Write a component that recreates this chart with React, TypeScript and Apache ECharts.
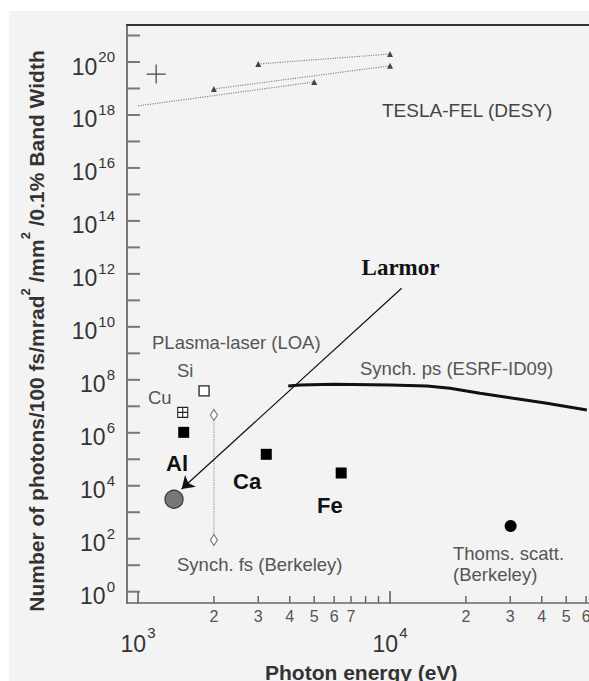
import React, { useEffect, useRef } from 'react';
import * as echarts from 'echarts';

// ---------- axis extents ----------
const X_MIN = 904;
const X_MAX = 61600;
const Y_MIN = 0.3744;
const Y_MAX = 2.495e21;

// ---------- data (photon energy in eV, photons/100fs/mrad2/mm2/0.1%BW) ----------
const teslaLineA = [[3000, 8.4e19], [10000, 2.0e20]];
const teslaLineB = [[2000, 9.6e18], [10000, 7.2e19]];
const teslaLineC = [[1000, 2.2e18], [5000, 1.76e19]];
const teslaCross = [[1180, 3.5e19]];

const esrfEnergy = [3945, 4395, 5957, 10000, 14000, 17300, 22750, 30850, 41900, 60400];
const esrfFlux = [5.85e7, 6.4e7, 6.8e7, 6.4e7, 5.85e7, 4.8e7, 3.1e7, 2.0e7, 1.3e7, 7.3e6];

const plasmaSi = [[1828, 3.8e7]];
const plasmaCu = [[1504, 5.9e6]];
const plasmaFilled = [[1518, 1.04e6], [3228, 1.54e5], [6400, 3.03e4]]; // Al, Ca, Fe
const larmorPoint = [[1389, 3.08e3]];
const thomsonPoint = [[30100, 303]];
const synchFs = [[2000, 4.7e6], [2000, 89.5]];
const larmorArrow = [[11120, 2.86e11], [1489, 7550]];

// ---------- ticks ----------
const xMinorTicks = [2000, 3000, 4000, 5000, 6000, 7000, 8000, 9000, 20000, 30000, 40000, 50000, 60000];
const xMinorLabels = ['2', '3', '4', '5', '6', '7', '', '', '2', '3', '4', '5', '6'];
const xMajorTicks = [1000, 10000];
const xMajorExponents = ['3', '4'];
const yTickValues = [1, 1e1, 1e2, 1e3, 1e4, 1e5, 1e6, 1e7, 1e8, 1e9, 1e10, 1e11, 1e12, 1e13, 1e14, 1e15, 1e16, 1e17, 1e18, 1e19, 1e20, 1e21];
const yTickExponents = ['0', '', '2', '', '4', '', '6', '', '8', '', '10', '', '12', '', '14', '', '16', '', '18', '', '20', ''];

const SANS = '"Liberation Sans", Arial, sans-serif';
const SERIF = '"Liberation Serif", "Times New Roman", serif';

const annotation = (text: string, x: number, y: number, font: string, fill: string) => ({
  type: 'text',
  x,
  y,
  silent: true,
  style: { text, font, fill, align: 'left', verticalAlign: 'middle' },
});

const buildOption = () => ({
  animation: false,
  backgroundColor: 'transparent',
  grid: { left: 127, top: 25, right: 0, bottom: 78, containLabel: false },
  xAxis: [
    {
      type: 'log',
      logBase: 10,
      min: X_MIN,
      max: X_MAX,
      position: 'bottom',
      axisLine: { show: true, onZero: false, lineStyle: { color: '#666', width: 1.5 } },
      axisTick: { show: false },
      axisLabel: { show: false },
      splitLine: { show: false },
    },
    {
      type: 'log',
      logBase: 10,
      min: X_MIN,
      max: X_MAX,
      position: 'top',
      axisLine: { show: true, onZero: false, lineStyle: { color: '#333', width: 2 } },
      axisTick: { show: false },
      axisLabel: { show: false },
      splitLine: { show: false },
    },
  ],
  yAxis: {
    type: 'log',
    logBase: 10,
    min: Y_MIN,
    max: Y_MAX,
    axisLine: { show: true, onZero: false, lineStyle: { color: '#777', width: 2 } },
    axisTick: { show: false },
    axisLabel: { show: false },
    splitLine: { show: false },
  },
  series: [
    // x minor ticks + labels
    {
      type: 'custom',
      silent: true,
      clip: false,
      data: xMinorTicks.map((v, i) => [v, Y_MIN, i]),
      renderItem: (_p: any, api: any) => {
        const i = api.value(2);
        const p = api.coord([api.value(0), Y_MIN]);
        return {
          type: 'group',
          children: [
            { type: 'line', shape: { x1: p[0], y1: p[1], x2: p[0], y2: p[1] - 7 }, style: { stroke: '#666', lineWidth: 1.5 } },
            {
              type: 'text',
              x: p[0],
              y: p[1] + 13,
              style: { text: xMinorLabels[i], font: `16px ${SANS}`, fill: '#555', align: 'center', verticalAlign: 'middle' },
            },
          ],
        };
      },
    },
    // x major ticks + labels
    {
      type: 'custom',
      silent: true,
      clip: false,
      data: xMajorTicks.map((v, i) => [v, Y_MIN, i]),
      renderItem: (_p: any, api: any) => {
        const i = api.value(2);
        const p = api.coord([api.value(0), Y_MIN]);
        const exp = xMajorExponents[i];
        const supW = exp.length * 0.556 * 15;
        const total = 25.6 + 1 + supW;
        const left = p[0] - total / 2;
        return {
          type: 'group',
          children: [
            { type: 'line', shape: { x1: p[0], y1: p[1], x2: p[0], y2: p[1] - 12 }, style: { stroke: '#555', lineWidth: 1.5 } },
            {
              type: 'text',
              x: left,
              y: p[1] + 40.5,
              style: { text: '10', font: `23px ${SANS}`, fill: '#333', align: 'left', verticalAlign: 'middle' },
            },
            {
              type: 'text',
              x: left + 26.6,
              y: p[1] + 29.5,
              style: { text: exp, font: `15px ${SANS}`, fill: '#333', align: 'left', verticalAlign: 'middle' },
            },
          ],
        };
      },
    },
    // y ticks + labels
    {
      type: 'custom',
      silent: true,
      clip: false,
      data: yTickValues.map((v, i) => [X_MIN, v, i]),
      renderItem: (_p: any, api: any) => {
        const i = api.value(2);
        const p = api.coord([X_MIN, api.value(1)]);
        const children: any[] = [
          { type: 'line', shape: { x1: p[0], y1: p[1], x2: p[0] + 13, y2: p[1] }, style: { stroke: '#777', lineWidth: 2 } },
        ];
        const exp = yTickExponents[i];
        if (exp) {
          const right = p[0] - 12;
          const supW = exp.length * 0.556 * 15;
          children.push({
            type: 'text',
            x: right,
            y: p[1] - 5.5,
            style: { text: exp, font: `15px ${SANS}`, fill: '#333', align: 'right', verticalAlign: 'middle' },
          });
          children.push({
            type: 'text',
            x: right - supW - 1,
            y: p[1] + 4.5,
            style: { text: '10', font: `23px ${SANS}`, fill: '#333', align: 'right', verticalAlign: 'middle' },
          });
        }
        return { type: 'group', children };
      },
    },
    // TESLA-FEL lines
    {
      type: 'line',
      data: teslaLineA,
      symbol: 'triangle',
      symbolSize: 6,
      lineStyle: { type: 'dotted', color: '#8a8a8a', width: 1.2 },
      itemStyle: { color: '#444', opacity: 1 },
    },
    {
      type: 'line',
      data: teslaLineB,
      symbol: 'triangle',
      symbolSize: 6,
      lineStyle: { type: 'dotted', color: '#8a8a8a', width: 1.2 },
      itemStyle: { color: '#444', opacity: 1 },
    },
    {
      type: 'line',
      data: [{ value: teslaLineC[0], symbol: 'none' }, { value: teslaLineC[1] }],
      symbol: 'triangle',
      symbolSize: 6,
      lineStyle: { type: 'dotted', color: '#8a8a8a', width: 1.2 },
      itemStyle: { color: '#444', opacity: 1 },
    },
    {
      type: 'scatter',
      data: teslaCross,
      symbol: 'path://M0,10H20M10,0V20',
      symbolSize: 19,
      itemStyle: { color: 'rgba(0,0,0,0)', borderColor: '#444', borderWidth: 1.2, opacity: 1 },
    },
    // ESRF synchrotron ps
    {
      type: 'line',
      data: esrfEnergy.map((e, i) => [e, esrfFlux[i]]),
      symbol: 'none',
      lineStyle: { color: '#111', width: 3 },
    },
    // Synch fs Berkeley
    {
      type: 'line',
      data: synchFs,
      symbol: 'diamond',
      symbolSize: [7, 11],
      lineStyle: { type: 'dotted', color: '#999', width: 1.2 },
      itemStyle: { color: '#fff', borderColor: '#777', borderWidth: 1.2, opacity: 1 },
    },
    // Plasma laser
    {
      type: 'scatter',
      data: plasmaSi,
      symbol: 'rect',
      symbolSize: 10,
      itemStyle: { color: '#fff', borderColor: '#222', borderWidth: 1.3, opacity: 1 },
    },
    {
      type: 'scatter',
      data: plasmaCu,
      symbol: 'path://M0,0H10V10H0ZM5,0V10M0,5H10',
      symbolSize: 10,
      itemStyle: { color: '#fff', borderColor: '#222', borderWidth: 1.1, opacity: 1 },
    },
    {
      type: 'scatter',
      data: plasmaFilled,
      symbol: 'rect',
      symbolSize: 11,
      itemStyle: { color: '#000', opacity: 1 },
    },
    // Larmor
    {
      type: 'scatter',
      data: larmorPoint,
      symbol: 'circle',
      symbolSize: 18,
      itemStyle: { color: '#777', borderColor: '#333', borderWidth: 1.2, opacity: 1 },
      markLine: {
        silent: true,
        symbol: ['none', 'arrow'],
        symbolSize: 12,
        label: { show: false },
        lineStyle: { color: '#111', width: 1.2, type: 'solid', opacity: 1 },
        data: [[{ coord: larmorArrow[0] }, { coord: larmorArrow[1] }]],
      },
    },
    // Thomson scattering
    {
      type: 'scatter',
      data: thomsonPoint,
      symbol: 'circle',
      symbolSize: 12,
      itemStyle: { color: '#000', opacity: 1 },
    },
  ],
  graphic: [
    {
      type: 'text',
      x: 33,
      y: 331,
      rotation: Math.PI / 2,
      silent: true,
      style: {
        text: '{t|Number of photons/100 fs/mrad}{s|2}{t| /mm}{s|2}{t| /0.1% Band Width}',
        align: 'center',
        verticalAlign: 'middle',
        rich: {
          t: { font: `bold 21px ${SANS}`, fill: '#333', lineHeight: 28, verticalAlign: 'bottom' },
          s: { font: `bold 13px ${SANS}`, fill: '#333', lineHeight: 13, verticalAlign: 'top' },
        },
      },
    },
    annotation('Photon energy (eV)', 265, 672.5, `bold 21px ${SANS}`, '#333'),
    annotation('TESLA-FEL (DESY)', 382, 110, `19px ${SANS}`, '#444'),
    annotation('PLasma-laser (LOA)', 152, 342, `18.5px ${SANS}`, '#555'),
    annotation('Synch. ps (ESRF-ID09)', 360, 368, `18.5px ${SANS}`, '#555'),
    annotation('Si', 177, 370, `18.5px ${SANS}`, '#555'),
    annotation('Cu', 148, 397, `18.5px ${SANS}`, '#555'),
    annotation('Al', 166, 463, `bold 22px ${SANS}`, '#111'),
    annotation('Ca', 233, 481, `bold 22px ${SANS}`, '#111'),
    annotation('Fe', 317, 505.5, `bold 22px ${SANS}`, '#111'),
    annotation('Synch. fs (Berkeley)', 177, 564, `18.5px ${SANS}`, '#555'),
    annotation('Thoms. scatt.', 453, 553.5, `18.5px ${SANS}`, '#555'),
    annotation('(Berkeley)', 453, 574.5, `18.5px ${SANS}`, '#555'),
    {
      type: 'text',
      x: 400.5,
      y: 267,
      silent: true,
      style: { text: 'Larmor', font: `bold 23px ${SERIF}`, fill: '#111', align: 'center', verticalAlign: 'middle' },
    },
  ],
});

export default function App() {
  const ref = useRef<HTMLDivElement>(null);
  useEffect(() => {
    if (!ref.current) return;
    const chart = echarts.init(ref.current, null, { renderer: 'svg' });
    chart.setOption(buildOption() as any);
    return () => chart.dispose();
  }, []);
  return (
    <div style={{ position: 'fixed', left: 0, top: 0, width: 589, height: 681, background: '#fff', overflow: 'hidden' }}>
      <div style={{ position: 'absolute', left: 9, top: 11, right: 0, bottom: 0, background: '#f3f3f3' }} />
      <div ref={ref} style={{ position: 'absolute', left: 0, top: 0, width: 589, height: 681 }} />
    </div>
  );
}
